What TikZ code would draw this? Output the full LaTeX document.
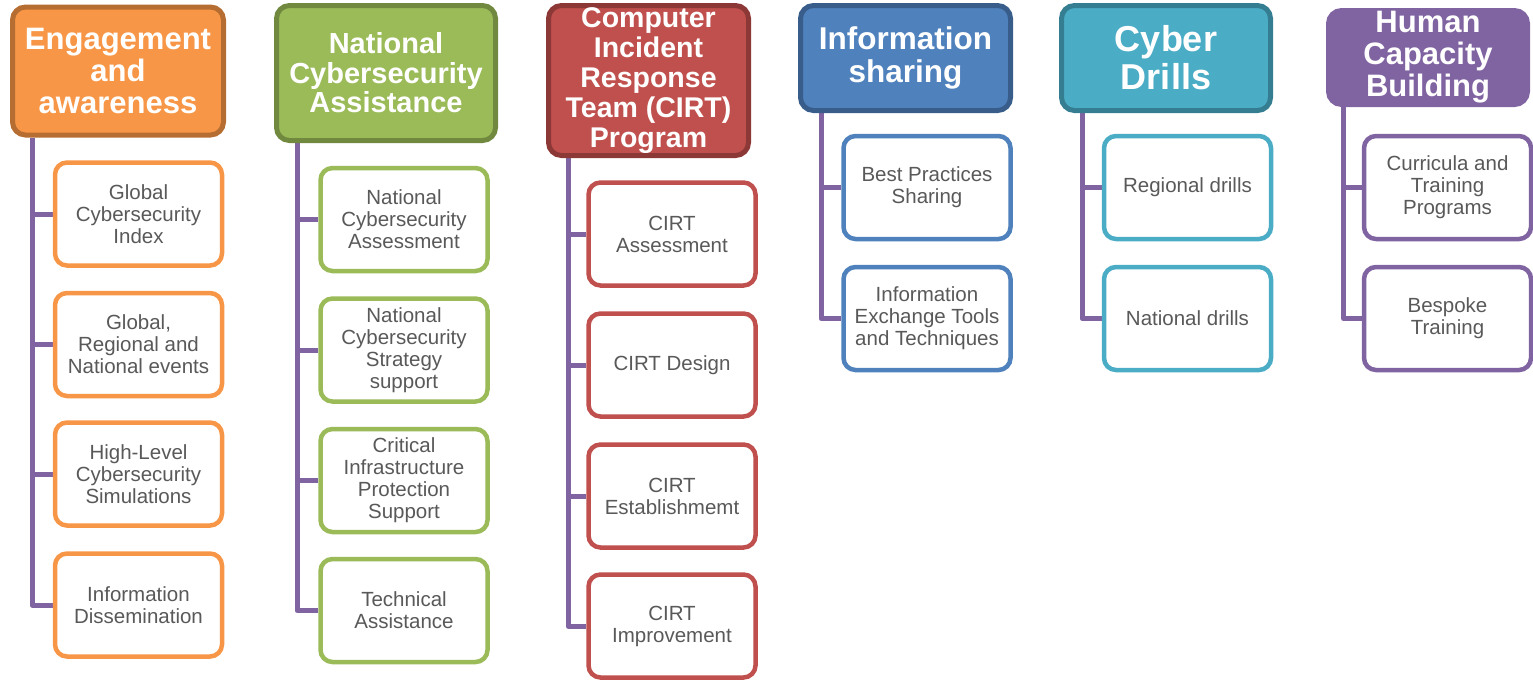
\documentclass[tikz,border=0pt]{standalone}
\usepackage{fontspec}
\setmainfont{Liberation Sans}
\usetikzlibrary{calc}
\pgfdeclarelayer{background}
\pgfsetlayers{background,main}

\definecolor{orF}{HTML}{F79646}\definecolor{orD}{HTML}{B66D31}
\definecolor{grF}{HTML}{9BBB59}\definecolor{grD}{HTML}{71893F}
\definecolor{rdF}{HTML}{C0504D}\definecolor{rdD}{HTML}{8C3836}
\definecolor{blF}{HTML}{4F81BD}\definecolor{blD}{HTML}{385D8A}
\definecolor{tlF}{HTML}{4BACC6}\definecolor{tlD}{HTML}{357D91}
\definecolor{puF}{HTML}{8064A2}
\definecolor{txt}{HTML}{595959}

\newcommand\hfs[2]{\bfseries\fontsize{#1}{#2}\selectfont}

\tikzset{
  hdr/.style={rounded corners=13pt, line width=5pt, text=white, align=center,
    inner sep=0pt},
  kid/.style={rounded corners=12pt, line width=4.5pt, fill=white, text=txt,
    align=center, inner sep=0pt, minimum width=167pt, minimum height=103pt,
    font=\fontsize{20.5}{22}\selectfont},
  spine/.style={draw=puF, line width=5pt, line join=round},
}

\begin{document}
\begin{tikzpicture}[x=1pt, y=-1pt]
\useasboundingbox (0,0) rectangle (1533,681);

% ---- headers ----
\node[hdr, fill=orF, draw=orD, minimum width=211pt, minimum height=128pt,
  font=\hfs{31}{32}] (h1) at (118,71) {Engagement\\and\\awareness};
\node[hdr, fill=grF, draw=grD, minimum width=219pt, minimum height=135pt,
  font=\hfs{29}{29.5}] (h2) at (386,73) {National\\Cybersecurity\\Assistance};
\node[hdr, fill=rdF, draw=rdD, minimum width=200pt, minimum height=150pt,
  font=\hfs{28.5}{30}] (h3) at (648.5,80.5) {Computer\\Incident\\Response\\Team (CIRT)\\Program};
\node[hdr, fill=blF, draw=blD, minimum width=210pt, minimum height=105pt,
  font=\hfs{31.5}{33}] (h4) at (905.5,58) {Information\\sharing};
\node[hdr, fill=tlF, draw=tlD, minimum width=209pt, minimum height=105pt,
  font=\hfs{36}{38}] (h5) at (1166,58) {Cyber\\Drills};
\node[hdr, fill=puF, draw=puF, minimum width=199pt, minimum height=94pt,
  font=\hfs{31}{32}] (h6) at (1428,57.5) {Human\\Capacity\\Building};

% ---- column 1 ----
\node[kid, draw=orF] (c11) at (138.5,214) {Global\\Cybersecurity\\Index};
\node[kid, draw=orF] (c12) at (138.5,344.5) {Global,\\Regional and\\National events};
\node[kid, draw=orF] (c13) at (138.5,474) {High-Level\\Cybersecurity\\Simulations};
\node[kid, draw=orF] (c14) at (138.5,605) {Information\\Dissemination};

% ---- column 2 ----
\node[kid, draw=grF] (c21) at (404,219.5) {National\\Cybersecurity\\Assessment};
\node[kid, draw=grF] (c22) at (404,350) {National\\Cybersecurity\\Strategy\\support};
\node[kid, draw=grF] (c23) at (404,480.5) {Critical\\Infrastructure\\Protection\\Support};
\node[kid, draw=grF] (c24) at (404,610.5) {Technical\\Assistance};

% ---- column 3 ----
\node[kid, draw=rdF] (c31) at (672,234) {CIRT\\Assessment};
\node[kid, draw=rdF] (c32) at (672,365) {CIRT Design};
\node[kid, draw=rdF] (c33) at (672,496) {CIRT\\Establishmemt};
\node[kid, draw=rdF] (c34) at (672,626) {CIRT\\Improvement};

% ---- column 4 ----
\node[kid, draw=blF] (c41) at (927,187.5) {Best Practices\\Sharing};
\node[kid, draw=blF] (c42) at (927,318.5) {Information\\Exchange Tools\\and Techniques};

% ---- column 5 ----
\node[kid, draw=tlF] (c51) at (1187.5,187.5) {Regional drills};
\node[kid, draw=tlF] (c52) at (1187.5,318.5) {National drills};

% ---- column 6 ----
\node[kid, draw=puF] (c61) at (1447.5,187.5) {Curricula and\\Training\\Programs};
\node[kid, draw=puF] (c62) at (1447.5,318.5) {Bespoke\\Training};

% ---- connectors ----
\coordinate (s1) at ($(h1.south west)+(22,0)$);
\coordinate (s2) at ($(h2.south west)+(23,0)$);
\coordinate (s3) at ($(h3.south west)+(22,0)$);
\coordinate (s4) at ($(h4.south west)+(23,0)$);
\coordinate (s5) at ($(h5.south west)+(23,0)$);
\coordinate (s6) at ($(h6.south west)+(17.5,0)$);

\begin{pgfonlayer}{background}
\draw[spine] (s1) |- (c14.west);
\foreach \c in {c11,c12,c13} \draw[spine] (\c.west) -- (\c.west -| s1);
\draw[spine] (s2) |- (c24.west);
\foreach \c in {c21,c22,c23} \draw[spine] (\c.west) -- (\c.west -| s2);
\draw[spine] (s3) |- (c34.west);
\foreach \c in {c31,c32,c33} \draw[spine] (\c.west) -- (\c.west -| s3);
\draw[spine] (s4) |- (c42.west);
\draw[spine] (c41.west) -- (c41.west -| s4);
\draw[spine] (s5) |- (c52.west);
\draw[spine] (c51.west) -- (c51.west -| s5);
\draw[spine] (s6) |- (c62.west);
\draw[spine] (c61.west) -- (c61.west -| s6);
\end{pgfonlayer}
\end{tikzpicture}
\end{document}
